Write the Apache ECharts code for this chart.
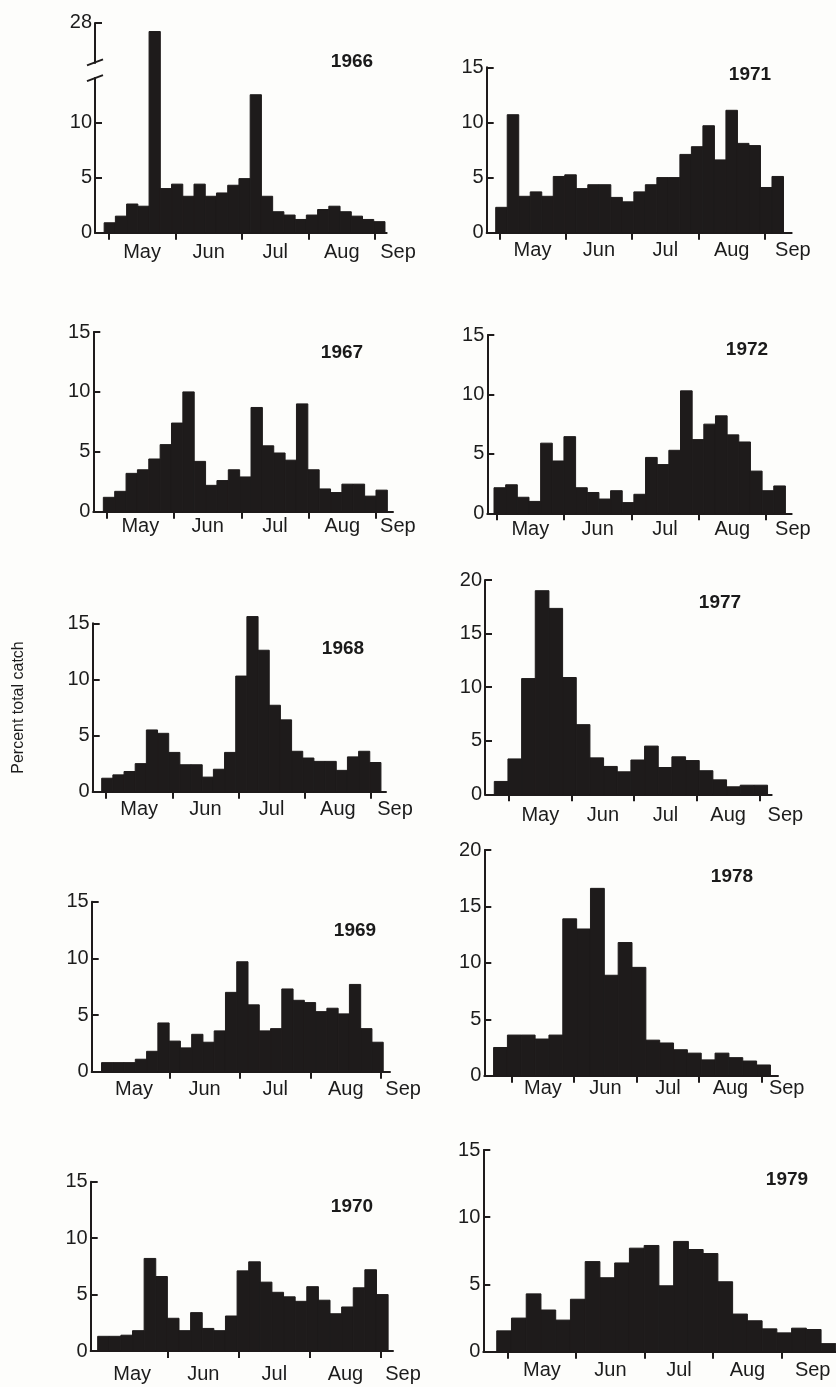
<!DOCTYPE html>
<html><head><meta charset="utf-8">
<script src="https://cdn.jsdelivr.net/npm/echarts@6/dist/echarts.min.js"></script>
<style>html,body{margin:0;padding:0;background:#fdfdfb}#c{width:836px;height:1387px}</style>
</head><body><div id="c"></div>
<script>
// ---- data ----
const monthLabels = ['May', 'Jun', 'Jul', 'Aug', 'Sep'];
const yAxisTitle = 'Percent total catch';
const years = ['1966', '1967', '1968', '1969', '1970', '1971', '1972', '1977', '1978', '1979'];

// percent of total catch per sampling period
const catch1966 = [0.9, 1.5, 2.6, 2.4, 27.2, 4.0, 4.4, 3.3, 4.4, 3.3, 3.6, 4.3, 4.9, 12.5, 3.3, 1.9, 1.6, 1.2, 1.6, 2.1, 2.4, 1.9, 1.5, 1.2, 1.0];
const catch1967 = [1.2, 1.7, 3.2, 3.5, 4.4, 5.6, 7.4, 10.0, 4.2, 2.2, 2.6, 3.5, 2.9, 8.7, 5.5, 4.9, 4.3, 9.0, 3.5, 1.9, 1.6, 2.3, 2.3, 1.3, 1.8];
const catch1968 = [1.2, 1.5, 1.8, 2.5, 5.5, 5.2, 3.5, 2.4, 2.4, 1.3, 2.0, 3.5, 10.3, 15.6, 12.6, 7.7, 6.4, 3.6, 3.0, 2.7, 2.7, 1.9, 3.1, 3.6, 2.6];
const catch1969 = [0.8, 0.8, 0.8, 1.1, 1.8, 4.3, 2.7, 2.1, 3.3, 2.6, 3.6, 7.0, 9.7, 5.9, 3.6, 3.8, 7.3, 6.3, 6.1, 5.3, 5.6, 5.1, 7.7, 3.8, 2.6];
const catch1970 = [1.3, 1.3, 1.4, 1.8, 8.2, 6.6, 2.9, 1.8, 3.4, 2.0, 1.8, 3.1, 7.1, 7.9, 6.1, 5.2, 4.8, 4.4, 5.7, 4.5, 3.3, 3.9, 5.6, 7.2, 5.0];
const catch1971 = [2.3, 10.7, 3.3, 3.7, 3.3, 5.1, 5.25, 4.0, 4.35, 4.35, 3.2, 2.8, 3.7, 4.35, 5.0, 5.0, 7.1, 7.8, 9.7, 6.6, 11.1, 8.1, 7.9, 4.1, 5.1];
const catch1972 = [2.15, 2.4, 1.35, 1.0, 5.9, 4.4, 6.45, 2.15, 1.75, 1.2, 1.9, 0.9, 1.6, 4.7, 4.1, 5.3, 10.3, 6.2, 7.5, 8.2, 6.6, 6.0, 3.55, 1.9, 2.3];
const catch1977 = [1.2, 3.3, 10.8, 19.0, 17.35, 10.9, 6.5, 3.4, 2.6, 2.1, 3.2, 4.5, 2.5, 3.5, 3.15, 2.2, 1.35, 0.7, 0.85, 0.85];
const catch1978 = [2.5, 3.6, 3.6, 3.25, 3.6, 13.9, 13.0, 16.6, 8.9, 11.8, 9.6, 3.15, 2.9, 2.3, 2.0, 1.4, 2.0, 1.6, 1.3, 0.95];
const catch1979 = [1.55, 2.5, 4.3, 3.1, 2.35, 3.9, 6.7, 5.5, 6.6, 7.7, 7.9, 4.9, 8.2, 7.6, 7.3, 5.2, 2.8, 2.3, 1.7, 1.4, 1.75, 1.65, 0.6];

// sampling season: start of first period and end of last period, in months after 1 May
const season1966 = [-0.07, 4.15];
const season1967 = [-0.05, 4.17];
const season1968 = [-0.065, 4.15];
const season1969 = [0.04, 4.03];
const season1970 = [0.015, 4.10];
const season1971 = [-0.054, 4.28];
const season1972 = [-0.04, 4.29];
const season1977 = [-0.235, 4.13];
const season1978 = [-0.29, 4.14];
const season1979 = [-0.16, 4.79];

// y-axis tick values
const yTicks15 = [0, 5, 10, 15];
const yTicks20 = [0, 5, 10, 15, 20];
const yTicks1966 = [0, 5, 10, 28];
const break1966 = [14, 24.4];

const catches = [catch1966, catch1967, catch1968, catch1969, catch1970, catch1971, catch1972, catch1977, catch1978, catch1979];
const seasons = [season1966, season1967, season1968, season1969, season1970, season1971, season1972, season1977, season1978, season1979];
const yTicks = [yTicks1966, yTicks15, yTicks15, yTicks15, yTicks15, yTicks15, yTicks15, yTicks20, yTicks20, yTicks15];

// ---- layout (pixels) ----
const layout = [
  {ax: 95, end: 386.7, x0: 108.8, mw: 66.55, top: 22.7, zero: 232.7, mayTick: true, lg: 10, sep: 23, tx: 352, ty: 62},
  {ax: 93.3, end: 393, x0: 106.7, mw: 67.3, top: 332, zero: 511.7, mayTick: true, lg: 5, sep: 22, tx: 342, ty: 353},
  {ax: 92.7, end: 386, x0: 106, mw: 66.25, top: 623.3, zero: 791.7, mayTick: true, lg: 8, sep: 24, tx: 343, ty: 649},
  {ax: 91.7, end: 390, x0: 98.7, mw: 70.6, top: 901.7, zero: 1071.7, mayTick: false, lg: 8, sep: 22, tx: 355, ty: 931},
  {ax: 90.7, end: 393, x0: 96.6, mw: 71.1, top: 1181.7, zero: 1351, mayTick: false, lg: 13, sep: 22, tx: 352, ty: 1207},
  {ax: 486.7, end: 791.7, x0: 499.3, mw: 66.4, top: 67.3, zero: 232.7, mayTick: true, lg: 8, sep: 28, tx: 750, ty: 75},
  {ax: 487.3, end: 791.7, x0: 496.7, mw: 67.3, top: 335, zero: 513.3, mayTick: true, lg: 6, sep: 27, tx: 747, ty: 350},
  {ax: 485, end: 771.7, x0: 509, mw: 62.6, top: 580, zero: 794.3, mayTick: true, lg: 11, sep: 26, tx: 720, ty: 603},
  {ax: 484.3, end: 778, x0: 511.7, mw: 62.5, top: 850, zero: 1075.7, mayTick: true, lg: 3, sep: 25, tx: 732, ty: 877},
  {ax: 483.3, end: 845, x0: 507.7, mw: 68.5, top: 1150, zero: 1351.7, mayTick: true, lg: 9, sep: 31, tx: 787, ty: 1180}
];

const INK = '#1e1b1b';
const TXT = '#1c1c1c';
const BG = '#fdfdfb';
const FONT = '"Liberation Sans", Arial, sans-serif';
const FS = 20;

function renderBin(params, api) {
  const a = api.coord([api.value(0), api.value(2)]);
  const b = api.coord([api.value(1), 0]);
  return {
    type: 'rect',
    shape: {x: a[0], y: a[1], width: b[0] - a[0], height: b[1] - a[1]},
    style: {fill: INK, stroke: INK, lineWidth: 1}
  };
}

const grids = [], xAxes = [], yAxes = [], series = [], graphics = [];
layout.forEach((L, i) => {
  grids.push({left: L.ax, top: L.top, width: L.end - L.ax, height: L.zero - L.top,
    containLabel: false, outerBoundsMode: 'none'});
  const xmin = (L.ax - L.x0) / L.mw, xmax = (L.end - L.x0) / L.mw;
  const monthTicks = L.mayTick ? [0, 1, 2, 3, 4] : [1, 2, 3, 4];
  xAxes.push({
    type: 'value', gridIndex: i, min: xmin, max: xmax,
    splitLine: {show: false},
    axisLine: {show: true, onZero: false, lineStyle: {color: INK, width: 2}},
    axisTick: {show: true, inside: false, length: 7, customValues: monthTicks, lineStyle: {color: INK, width: 2}},
    axisLabel: {
      show: true, customValues: [0.5, 1.5, 2.5, 3.5, 4], margin: L.lg,
      color: TXT, fontSize: FS, fontFamily: FONT,
      formatter: v => (v === 4 ? '{s|' + monthLabels[4] + '}' : monthLabels[Math.floor(v)]),
      rich: {s: {padding: [0, 0, 0, 2 * L.sep], fontSize: FS, fontFamily: FONT, color: TXT}}
    }
  });
  const ticks = yTicks[i];
  const y = {
    type: 'value', gridIndex: i, min: 0, max: ticks[ticks.length - 1], interval: 5,
    splitLine: {show: false},
    axisLine: {show: true, onZero: false, lineStyle: {color: INK, width: 2}},
    axisTick: {show: true, inside: true, length: 7, customValues: ticks, lineStyle: {color: INK, width: 2}},
    axisLabel: {show: true, customValues: ticks, margin: 3, color: TXT, fontSize: FS, fontFamily: FONT}
  };
  if (i === 0) {
    y.breaks = [{start: break1966[0], end: break1966[1], gap: '7.5%'}];
    y.breakArea = {show: false};
  }
  if (i === 2) {
    y.name = yAxisTitle;
    y.nameLocation = 'middle';
    y.nameGap = 66;
    y.nameRotate = 90;
    y.nameTextStyle = {fontSize: 16, fontFamily: FONT, color: TXT};
  }
  yAxes.push(y);
  const s = seasons[i], vals = catches[i];
  const w = (s[1] - s[0]) / vals.length;
  series.push({
    type: 'custom', name: years[i], xAxisIndex: i, yAxisIndex: i,
    renderItem: renderBin, clip: false,
    encode: {x: [0, 1], y: 2},
    data: vals.map((v, k) => [s[0] + k * w, s[0] + (k + 1) * w, v])
  });
  graphics.push({
    type: 'text', x: L.tx, y: L.ty,
    style: {text: years[i], fill: '#1a1a1a', font: 'bold 19px ' + FONT, textAlign: 'center', textVerticalAlign: 'middle'}
  });
});

const chart = echarts.init(document.getElementById('c'), null, {renderer: 'canvas'});
chart.setOption({
  animation: false,
  backgroundColor: BG,
  grid: grids, xAxis: xAxes, yAxis: yAxes, series: series,
  graphic: graphics
});

// axis-break marks on the 1966 axis
const L0 = layout[0];
const xmin0 = (L0.ax - L0.x0) / L0.mw;
const pLow = chart.convertToPixel({xAxisIndex: 0, yAxisIndex: 0}, [xmin0, break1966[0]]);
const pHigh = chart.convertToPixel({xAxisIndex: 0, yAxisIndex: 0}, [xmin0, break1966[1]]);
if (pLow && pHigh) {
  const bx = pLow[0];
  graphics.push(
    {type: 'rect', shape: {x: bx - 3, y: pHigh[1] + 2, width: 6, height: pLow[1] - pHigh[1] - 4}, style: {fill: BG}, z: 50},
    {type: 'line', shape: {x1: bx - 8, y1: pLow[1] + 3, x2: bx + 8, y2: pLow[1] - 3}, style: {stroke: INK, lineWidth: 2}, z: 51},
    {type: 'line', shape: {x1: bx - 8, y1: pHigh[1] + 3, x2: bx + 8, y2: pHigh[1] - 3}, style: {stroke: INK, lineWidth: 2}, z: 51}
  );
  chart.setOption({graphic: graphics});
}
</script>
</body></html>
